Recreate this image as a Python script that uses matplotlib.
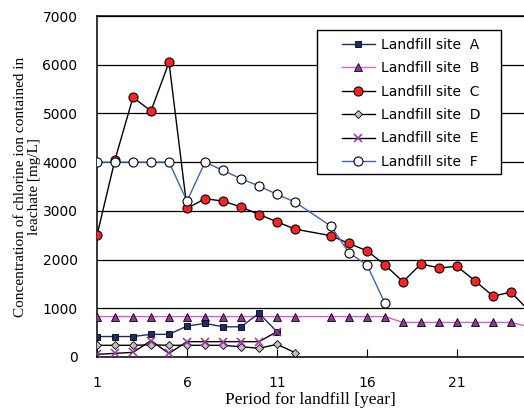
import numpy as np
import matplotlib.pyplot as plt
from matplotlib.patches import Rectangle

# years and concentrations [mg/L]
years_a = [1, 2, 3, 4, 5, 6, 7, 8, 9, 10, 11]
site_a = [420, 420, 420, 465, 465, 635, 690, 620, 620, 895, 520]

years_b = [1, 2, 3, 4, 5, 6, 7, 8, 9, 10, 11, 12, 14, 15, 16, 17, 18, 19, 20, 21, 22, 23, 24, 25]
site_b = [830, 830, 830, 830, 830, 830, 830, 830, 830, 830, 830, 830,
          830, 830, 830, 830, 710, 710, 710, 710, 710, 710, 710, 620]

years_c = [1, 2, 3, 4, 5, 6, 7, 8, 9, 10, 11, 12, 14, 15, 16, 17, 18, 19, 20, 21, 22, 23, 24, 25]
site_c = [2500, 4050, 5330, 5050, 6050, 3050, 3250, 3200, 3080, 2925, 2775, 2625,
          2490, 2330, 2180, 1890, 1545, 1910, 1830, 1860, 1565, 1250, 1330, 950]

years_d = [1, 2, 3, 4, 5, 6, 7, 8, 9, 10, 11, 12]
site_d = [240, 240, 240, 250, 240, 240, 240, 240, 210, 180, 260, 90]

years_e = [1, 2, 3, 4, 5, 6, 7, 8, 9, 10, 11]
site_e = [55, 75, 95, 335, 75, 315, 315, 315, 315, 315, 520]

years_f = [1, 2, 3, 4, 5, 6, 7, 8, 9, 10, 11, 12, 14, 15, 16, 17]
site_f = [4000, 4000, 4000, 4000, 4000, 3200, 4000, 3830, 3660, 3510, 3340, 3180,
          2685, 2140, 1890, 1100]

labels = ['Landfill site  A', 'Landfill site  B', 'Landfill site  C',
          'Landfill site  D', 'Landfill site  E', 'Landfill site  F']

W, H = 524, 412
fig = plt.figure(figsize=(W / 100, H / 100), dpi=100)
ax = fig.add_axes([97 / W, 1 - 357 / H, (W - 97) / W, (357 - 16) / H])

ax.plot(years_a, site_a, color='#1f2a6e', lw=1, marker='s', ms=4.5,
        mfc='#1f2a6e', mec='black', mew=0.6, label=labels[0], zorder=4)
ax.plot(years_b, site_b, color='#cc66cc', lw=1, marker='^', ms=5.5,
        mfc='#993399', mec='black', mew=0.6, label=labels[1], zorder=3)
ax.plot(years_c, site_c, color='black', lw=1, marker='o', ms=6.5,
        mfc='#ff2020', mec='black', mew=0.8, label=labels[2], zorder=4)
ax.plot(years_d, site_d, color='black', lw=1, marker='D', ms=4,
        mfc='#c0c0c0', mec='black', mew=0.6, label=labels[3], zorder=4)
ax.plot(years_e, site_e, color='black', lw=1, marker='x', ms=5.5,
        mec='#993399', mew=1.1, label=labels[4], zorder=4)
ax.plot(years_f, site_f, color='#3a62c0', lw=1, marker='o', ms=6.5,
        mfc='white', mec='black', mew=0.8, label=labels[5], zorder=5)

ax.set_xlim(1, 1 + 427 / 18)
ax.set_ylim(0, 7000)
ax.set_xticks([1, 6, 11, 16, 21])
ax.set_yticks(np.arange(0, 7001, 1000))
ax.yaxis.grid(True, color='black', lw=0.9)
ax.set_axisbelow(True)
for side in ['left', 'bottom', 'top']:
    ax.spines[side].set_linewidth(1.1)
ax.spines['right'].set_visible(False)
ax.tick_params(axis='x', direction='in', length=6, pad=14, labelsize=10)
ax.tick_params(axis='y', length=0, pad=14, labelsize=10)

ax.set_xlabel('Period for landfill [year]', family='Liberation Serif', fontsize=12.5, labelpad=1)
ax.set_ylabel('Concentration of chlorine ion contained in\nleachate [mg/L]',
              family='Liberation Serif', fontsize=11, labelpad=1, linespacing=1.15)

# legend box drawn separately so it can be wider than the entries
box = Rectangle((317 / W, 1 - 174 / H), (501 - 317) / W, (174 - 30) / H,
                transform=fig.transFigure, facecolor='white', edgecolor='black',
                lw=1, zorder=6, clip_on=False)
ax.add_patch(box)

leg = ax.legend(loc='upper left', bbox_to_anchor=(334 / W, 1 - 30 / H),
                bbox_transform=fig.transFigure, frameon=False,
                fontsize=10, handlelength=2.4, labelspacing=0.68,
                borderpad=0.55, handletextpad=0.4, borderaxespad=0)
leg.set_zorder(7)

fig.savefig('out.png', dpi=100)
